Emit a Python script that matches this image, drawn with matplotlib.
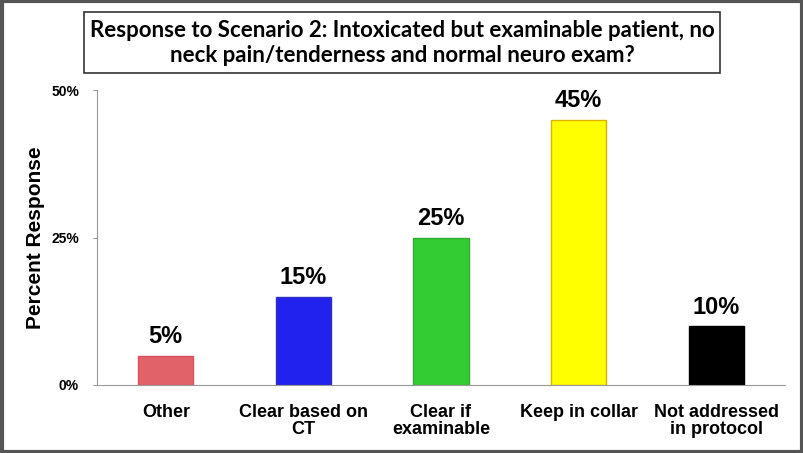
import matplotlib.pyplot as plt
import matplotlib.patches as mpatches
from matplotlib.ticker import PercentFormatter

categories = ["Other", "Clear based on\nCT", "Clear if\nexaminable", "Keep in collar", "Not addressed\nin protocol"]
percent = [5, 15, 25, 45, 10]
bar_colors = ["#e2626a", "#2222ee", "#33cc33", "#ffff00", "#000000"]
edge_colors = ["#d85060", "#3030c0", "#33aa33", "#e0b000", "#000000"]
yticks = [0, 25, 50]
title = "Response to Scenario 2: Intoxicated but examinable patient, no\nneck pain/tenderness and normal neuro exam?"

fig = plt.figure(figsize=(8.04, 4.53), dpi=100)
ax = fig.add_axes([97 / 804, 68 / 453, 688 / 804, 295 / 453])

x = range(len(categories))
ax.bar(x, percent, width=0.4, color=bar_colors, edgecolor=edge_colors, linewidth=1)
for xi, v in zip(x, percent):
    ax.text(xi, v + 1.2, f"{v}%", ha="center", va="bottom", fontsize=17,
            fontweight="bold", family="Liberation Sans")

ax.set_xlim(-0.5, 4.5)
ax.set_ylim(0, 50)
ax.set_yticks(yticks)
ax.yaxis.set_major_formatter(PercentFormatter(decimals=0))
ax.set_xticks(list(x))
ax.set_xticklabels(categories, fontsize=13, fontweight="bold", family="Liberation Sans",
                   linespacing=0.95)
for lab in ax.get_yticklabels():
    lab.set_fontsize(10)
    lab.set_fontweight("bold")
    lab.set_family("Liberation Sans")
ax.tick_params(axis="x", length=0, pad=14)
ax.tick_params(axis="y", length=3, color="#999999", pad=10)
for s in ["top", "right"]:
    ax.spines[s].set_visible(False)
for s in ["left", "bottom"]:
    ax.spines[s].set_color("#999999")

fig.text(36 / 804, 1 - 238 / 453, "Percent Response", rotation=90, ha="center", va="center",
         fontsize=15, fontweight="bold", family="Liberation Sans")

# title box
fig.patches.append(mpatches.Rectangle((84 / 804, 1 - 73 / 453), 636 / 804, 61 / 453,
                                      transform=fig.transFigure, fill=False,
                                      edgecolor="#333333", linewidth=1.2))
fig.text(402 / 804, 1 - 43 / 453, title, ha="center", va="center", fontsize=16,
         fontweight="bold", family="Lato", linespacing=1.2)

# outer frame
fig.patches.append(mpatches.Rectangle((0.002, 0.003), 0.996, 0.994, transform=fig.transFigure,
                                      fill=False, edgecolor="#555555", linewidth=3))

fig.savefig("out.png", dpi=100)
